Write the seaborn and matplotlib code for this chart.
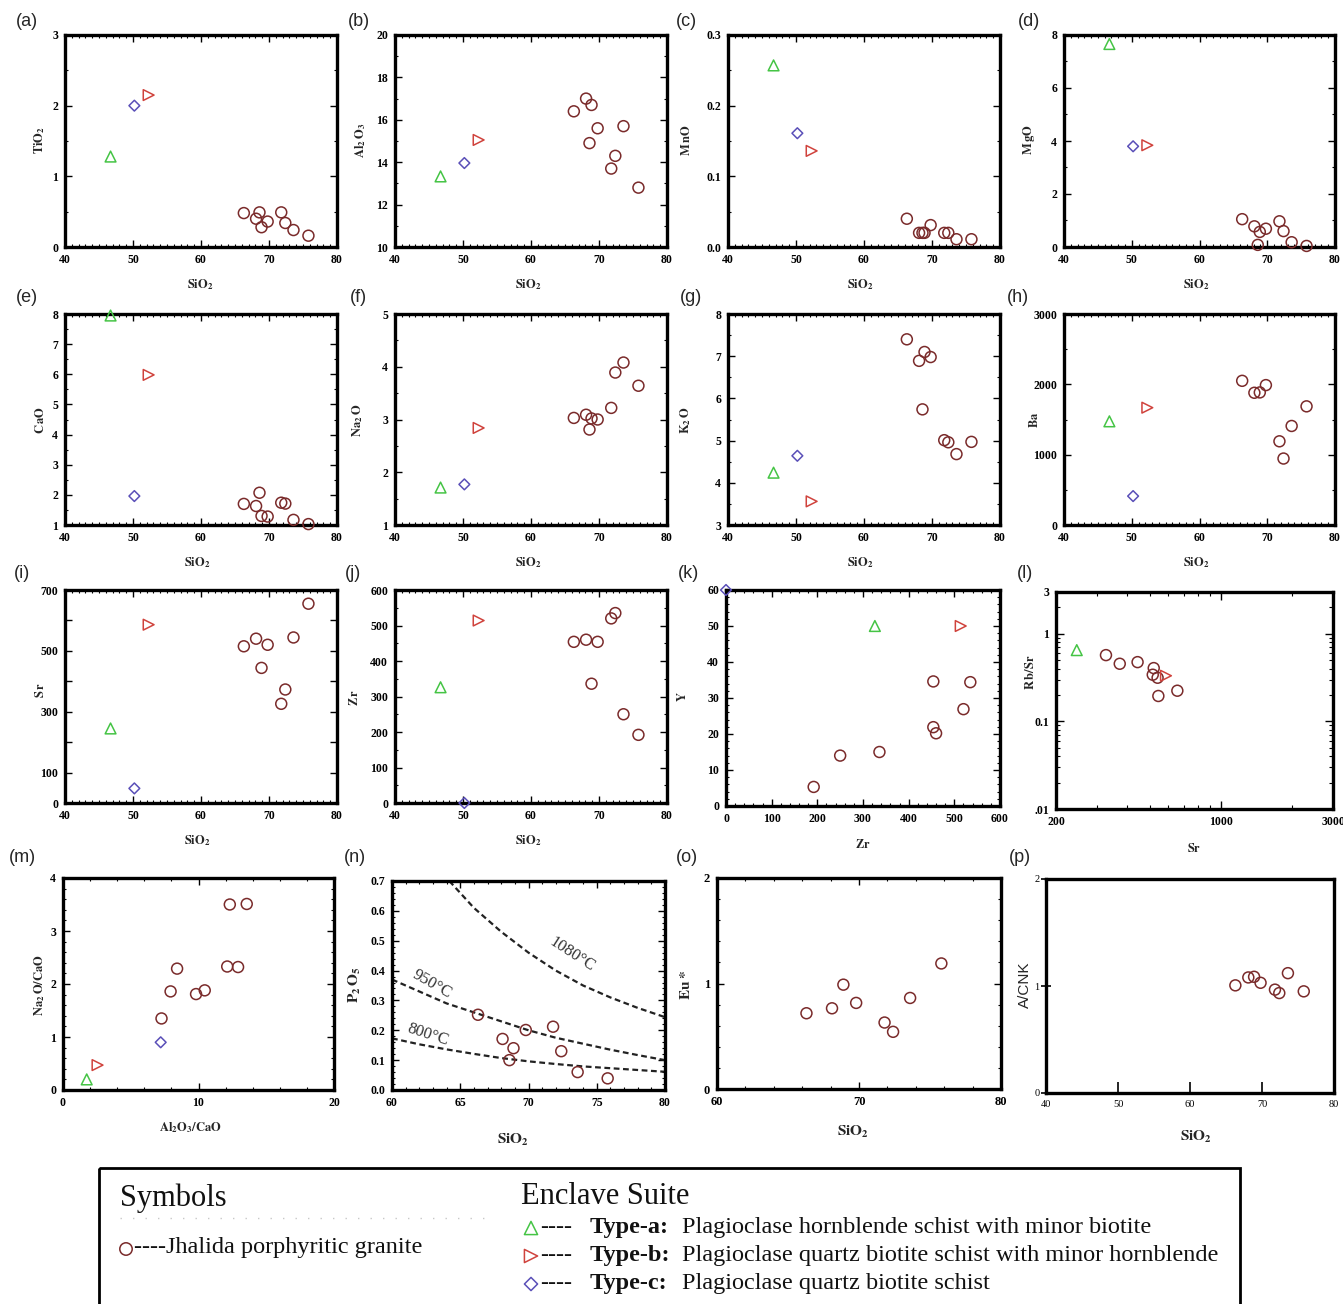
import numpy as np
import matplotlib
matplotlib.use("Agg")
import matplotlib.pyplot as plt
from matplotlib.ticker import MultipleLocator, FixedLocator, FixedFormatter, NullFormatter, LogLocator
from matplotlib.patches import Rectangle
import seaborn as sns

nan = np.nan

# ---------------- enclave suite (type-a, type-b, type-c) ----------------
sio2_enclave = [46.7, 52.3, 50.2]
tio2_enclave = [1.28, 2.15, 2.00]
al2o3_enclave = [13.33, 15.05, 13.96]
mno_enclave = [0.257, 0.136, 0.161]
mgo_enclave = [7.66, 3.84, 3.80]
cao_enclave = [7.95, 5.98, 1.96]
na2o_enclave = [1.71, 2.84, 1.77]
k2o_enclave = [4.24, 3.56, 4.64]
ba_enclave = [1474, 1668, 411]
sr_enclave = [245, 586, 48]
zr_enclave = [326, 514, 0]
y_enclave = [50, 50, 60]
rbsr_enclave = [0.651, 0.332, nan]
alca_enclave = [1.75, 2.55, 7.21]
naca_enclave = [0.20, 0.47, 0.90]

# ---------------- Jhalida porphyritic granite ----------------
sio2_granite = [66.3, 68.1, 68.6, 68.9, 69.8, 71.8, 72.4, 73.6, 75.8]
tio2_granite = [0.48, 0.40, 0.49, 0.28, 0.36, 0.49, 0.34, 0.24, 0.16]
al2o3_granite = [16.4, 17.0, 14.9, 16.7, 15.6, 13.7, 14.3, 15.7, 12.8]
mno_granite = [0.040, 0.020, 0.020, 0.020, 0.031, 0.020, 0.020, 0.011, 0.011]
mgo_granite = [1.05, 0.78, 0.08, 0.57, 0.69, 0.97, 0.60, 0.18, 0.04]
cao_granite = [1.70, 1.63, 2.07, 1.30, 1.28, 1.74, 1.71, 1.17, 1.03]
na2o_granite = [3.03, 3.09, 2.81, 3.02, 3.00, 3.22, 3.89, 4.08, 3.64]
k2o_granite = [7.40, 6.89, 5.74, 7.10, 6.98, 5.01, 4.96, 4.68, 4.97]
ba_granite = [2050, 1880, nan, 1885, 1989, 1190, 945, 1408, 1687]
sr_granite = [515, 540, nan, 444, 520, 326, 373, 544, 655]
zr_granite = [454, 460, nan, 336, 454, 520, 535, 250, 192]
y_granite = [34.6, 20.2, nan, 15.0, 21.9, 26.9, 34.4, 14.0, 5.3]
rbsr_granite = [0.341, 0.315, nan, 0.475, 0.406, 0.571, 0.455, 0.195, 0.224]
alca_granite = [9.82, 10.46, 7.27, 12.92, 12.12, 7.94, 8.42, 13.56, 12.31]
naca_granite = [1.81, 1.88, 1.35, 2.32, 2.33, 1.86, 2.29, 3.51, 3.50]
p2o5_granite = [0.252, 0.171, 0.100, 0.140, 0.201, 0.212, 0.130, 0.060, 0.039]
eu_granite = [0.718, 0.765, nan, 0.989, 0.816, 0.630, 0.542, 0.863, 1.190]
acnk_granite = [1.006, 1.080, nan, 1.086, 1.030, 0.966, 0.934, 1.120, 0.950]

# ---------------- apatite saturation isotherms (P2O5 vs SiO2) ----------------
iso_sio2 = [60, 62, 64, 66, 68, 70, 72, 74, 76, 78, 80]
iso_950 = [0.370, 0.330, 0.290, 0.260, 0.230, 0.200, 0.175, 0.155, 0.135, 0.117, 0.100]
iso_800 = [0.173, 0.153, 0.136, 0.121, 0.107, 0.096, 0.087, 0.079, 0.073, 0.067, 0.061]
iso1080_sio2 = [64.2, 66, 68, 70, 72, 74, 76, 78, 80]
iso_1080 = [0.700, 0.610, 0.530, 0.460, 0.400, 0.350, 0.310, 0.275, 0.244]

# ---------------- styling ----------------
sns.set_theme(style="ticks")
plt.rcParams.update({
    "font.family": ["Liberation Serif", "DejaVu Serif"],
    "font.weight": "bold",
    "mathtext.fontset": "stix",
    "axes.facecolor": "white",
    "figure.facecolor": "white",
    "axes.edgecolor": "black",
    "xtick.color": "black",
    "ytick.color": "black",
})

GRANITE = dict(marker="o", s=62, color="#7a2b2b")
TYPE_A = dict(marker="^", s=60, color="#45c445")
TYPE_B = dict(marker=">", s=60, color="#d0433d")
TYPE_C = dict(marker="D", s=30, color="#5a4fb8")
ENCLAVE_STYLES = [TYPE_A, TYPE_B, TYPE_C]

W, H = 1343, 1304
fig = plt.figure(figsize=(W / 100, H / 100), dpi=100)


def px_axes(l, t, r, b):
    return fig.add_axes([l / W, 1 - b / H, (r - l) / W, (b - t) / H])


def ftext(x, y, s, **kw):
    fig.text(x / W, 1 - y / H, s, **kw)


def draw_points(ax, x, y, style):
    sns.scatterplot(x=list(x), y=list(y), ax=ax, marker=style["marker"], s=style["s"],
                    facecolor="none", edgecolor=style["color"], linewidth=1.1,
                    clip_on=False, zorder=4, legend=False)


def frame(ax, xlim, ylim, xmaj, xmin, ymaj, ymin, size=8.5):
    ax.set_xlim(*xlim)
    ax.set_ylim(*ylim)
    if xmaj:
        ax.xaxis.set_major_locator(MultipleLocator(xmaj))
        ax.xaxis.set_minor_locator(MultipleLocator(xmin))
    if ymaj:
        ax.yaxis.set_major_locator(MultipleLocator(ymaj))
        ax.yaxis.set_minor_locator(MultipleLocator(ymin))
    ax.tick_params(which="both", direction="in", top=True, right=True)
    ax.tick_params(which="major", length=5, width=1.0, labelsize=size, pad=5)
    ax.tick_params(which="minor", length=2.5, width=0.8)
    for sp in ax.spines.values():
        sp.set_linewidth(2.4)
        sp.set_color("black")
    ax.set_xlabel("")
    ax.set_ylabel("")
    ax.grid(False)


def panel(box, letter, letter_xy, xg, yg, xe, ye, lims, ticks, xlabel, xlab_xy,
          ylabel, ylab_xy, size=8.5, lab_size=9):
    ax = px_axes(*box)
    draw_points(ax, xg, yg, GRANITE)
    if xe is not None:
        for i, st in enumerate(ENCLAVE_STYLES):
            draw_points(ax, [xe[i]], [ye[i]], st)
    frame(ax, lims[0], lims[1], *ticks, size=size)
    ftext(*letter_xy, letter, fontsize=13, fontweight="normal",
          family=["Liberation Sans", "DejaVu Sans"], ha="left", va="center")
    ftext(*xlab_xy, xlabel, fontsize=lab_size, ha="center", va="center")
    if ylabel:
        ftext(*ylab_xy, ylabel, fontsize=lab_size, ha="center", va="center", rotation=90)
    return ax


SIO2 = r"$\mathbf{SiO_2}$"

# ---- row 1 ----
panel((65, 35, 337, 247), "(a)", (16, 22), sio2_granite, tio2_granite, sio2_enclave, tio2_enclave,
      ((40, 80), (0, 3)), (10, 1, 1, 0.5), SIO2, (200, 285), r"$\mathbf{TiO_2}$", (40, 140))
panel((395, 35, 667, 247), "(b)", (348, 22), sio2_granite, al2o3_granite, sio2_enclave, al2o3_enclave,
      ((40, 80), (10, 20)), (10, 1, 2, 1), SIO2, (528, 285), r"$\mathbf{Al_2\,O_3}$", (361, 140))
panel((728, 35, 1000, 247), "(c)", (676, 22), sio2_granite, mno_granite, sio2_enclave, mno_enclave,
      ((40, 80), (0, 0.3)), (10, 1, 0.1, 0.05), SIO2, (860, 285), r"$\mathbf{M\,nO}$", (686, 140))
panel((1064, 35, 1335, 247), "(d)", (1018, 22), sio2_granite, mgo_granite, sio2_enclave, mgo_enclave,
      ((40, 80), (0, 8)), (10, 1, 2, 1), SIO2, (1196, 285), r"$\mathbf{M\,gO}$", (1029, 140))

# ---- row 2 ----
panel((65, 314, 337, 525), "(e)", (16, 298), sio2_granite, cao_granite, sio2_enclave, cao_enclave,
      ((40, 80), (1, 8)), (10, 1, 1, 0.5), SIO2, (197, 563), r"$\mathbf{C\,aO}$", (40, 420))
panel((395, 314, 667, 525), "(f)", (350, 298), sio2_granite, na2o_granite, sio2_enclave, na2o_enclave,
      ((40, 80), (1, 5)), (10, 1, 1, 0.5), SIO2, (528, 563), r"$\mathbf{Na_2\,O}$", (358, 420))
panel((728, 314, 1000, 525), "(g)", (680, 298), sio2_granite, k2o_granite, sio2_enclave, k2o_enclave,
      ((40, 80), (3, 8)), (10, 1, 1, 0.5), SIO2, (860, 563), r"$\mathbf{K_2\,O}$", (686, 420))
panel((1064, 314, 1335, 525), "(h)", (1007, 298), sio2_granite, ba_granite, sio2_enclave, ba_enclave,
      ((40, 80), (0, 3000)), (10, 1, 1000, 500), SIO2, (1196, 563), r"$\mathbf{Ba}$", (1035, 420))

# ---- row 3 ----
ax_i = panel((65, 590, 337, 803), "(i)", (14, 574), sio2_granite, sr_granite, sio2_enclave, sr_enclave,
             ((40, 80), (0, 700)), (10, 1, 100, 50), SIO2, (197, 841), r"$\mathbf{S\,r}$", (40, 690))
ax_i.yaxis.set_major_formatter(FixedFormatter(["0", "100", "", "300", "", "500", "", "700"]))
ax_i.yaxis.set_major_locator(FixedLocator([0, 100, 200, 300, 400, 500, 600, 700]))
ax_i.yaxis.set_minor_locator(FixedLocator([]))

panel((395, 590, 667, 803), "(j)", (345, 574), sio2_granite, zr_granite, sio2_enclave, zr_enclave,
      ((40, 80), (0, 600)), (10, 1, 100, 50), SIO2, (528, 841), r"$\mathbf{Z\,r}$", (355, 697))
panel((726, 590, 1000, 806), "(k)", (678, 574), zr_granite, y_granite, zr_enclave, y_enclave,
      ((0, 600), (0, 60)), (100, 20, 10, 2), r"$\mathbf{Zr}$", (863, 845), r"$\mathbf{Y}$", (683, 697))

ax_l = panel((1056, 592, 1333, 809), "(l)", (1017, 574), sr_granite, rbsr_granite, sr_enclave, rbsr_enclave,
             ((200, 3000), (0.01, 3)), (None, None, None, None), r"$\mathbf{Sr}$", (1194, 848),
             r"$\mathbf{R\,b/Sr}$", (1030, 672))
ax_l.set_xscale("log")
ax_l.set_yscale("log")
ax_l.set_xlim(200, 3000)
ax_l.set_ylim(0.01, 3)
ax_l.xaxis.set_major_locator(FixedLocator([200, 1000, 3000]))
ax_l.xaxis.set_major_formatter(FixedFormatter(["200", "1000", "3000"]))
ax_l.xaxis.set_minor_locator(FixedLocator([300, 400, 500, 600, 700, 800, 900, 2000]))
ax_l.xaxis.set_minor_formatter(NullFormatter())
ax_l.yaxis.set_major_locator(FixedLocator([0.01, 0.1, 1, 3]))
ax_l.yaxis.set_major_formatter(FixedFormatter([".01", "0.1", "1", "3"]))
ax_l.yaxis.set_minor_locator(LogLocator(base=10, subs=np.arange(2, 10)))
ax_l.yaxis.set_minor_formatter(NullFormatter())
ax_l.tick_params(which="both", direction="in", top=True, right=True)
ax_l.tick_params(which="major", length=6, labelsize=8.5)
ax_l.tick_params(which="minor", length=3)

# ---- row 4 ----
panel((63, 878, 334, 1090), "(m)", (9, 858), alca_granite, naca_granite, alca_enclave, naca_enclave,
      ((0, 20), (0, 4)), (10, 2, 1, 0.2), r"$\mathbf{Al_2O_3/CaO}$", (190, 1128),
      r"$\mathbf{Na_2\,O/CaO}$", (40, 985))

ax_n = panel((392, 881, 665, 1090), "(n)", (344, 858), sio2_granite, p2o5_granite, None, None,
             ((60, 80), (0, 0.7)), (5, 1, 0.1, 0.02), SIO2, (513, 1140), r"$\mathbf{P_2\,O_5}$", (355, 985),
             lab_size=11)
for xs, ys in ((iso1080_sio2, iso_1080), (iso_sio2, iso_950), (iso_sio2, iso_800)):
    sns.lineplot(x=xs, y=ys, ax=ax_n, color="#222222", linewidth=1.6, linestyle=(0, (2.6, 1.6)),
                 sort=False, estimator=None, zorder=2, legend=False)
ax_n.set_xlim(60, 80)
ax_n.set_ylim(0, 0.7)
ax_n.set_xlabel("")
ax_n.set_ylabel("")
for txt, xy, rot in (("1080°C", (572, 955), -33), ("950°C", (432, 984), -30), ("800°C", (428, 1035), -18)):
    ftext(*xy, txt, fontsize=12, fontweight="normal", color="#333333", ha="center", va="center",
          rotation=rot)

panel((717, 878, 1001, 1089), "(o)", (676, 858), sio2_granite, eu_granite, None, None,
      ((60, 80), (0, 2)), (10, 2, 1, 0.2), SIO2, (853, 1132), r"$\mathbf{Eu*}$", (686, 985),
      size=9, lab_size=11)

ax_p = panel((1046, 879, 1334, 1093), "(p)", (1009, 858), sio2_granite, acnk_granite, None, None,
             ((40, 80), (0, 2)), (10, 10, 1, 1), SIO2, (1196, 1137), "", (1030, 985), lab_size=11)
ax_p.tick_params(which="both", top=False, right=False)
ax_p.tick_params(axis="x", which="major", direction="in", length=8, width=1.2, labelsize=7.5)
ax_p.tick_params(axis="y", which="major", direction="inout", length=7, width=1.2, labelsize=7.5, pad=1)
ax_p.tick_params(which="minor", length=0)
for lbl in ax_p.get_xticklabels() + ax_p.get_yticklabels():
    lbl.set_fontweight("normal")
ftext(1025, 985, "A/CNK", fontsize=11, fontweight="normal", rotation=90, ha="center", va="center",
      family=["Liberation Sans Narrow", "Liberation Sans", "DejaVu Sans"])

# ---------------- symbol key ----------------
key = fig.add_axes([0, 0, 1, 1], facecolor="none")
key.set_xlim(0, W)
key.set_ylim(H, 0)
key.axis("off")
key.add_patch(Rectangle((99, 1168), 1141, 160, fill=False, lw=2.0, edgecolor="black", clip_on=False))
key.plot([120, 490], [1218, 1218], color="#c8c8c8", lw=1.0, linestyle=(0, (1, 8)))

TXT = dict(fontweight="normal", va="center", ha="left", color="#111111")
key.text(120, 1198, "Symbols", fontsize=22, **TXT)
key.text(521, 1196, "Enclave Suite", fontsize=22, **TXT)

key.scatter([126], [1249], marker="o", s=80, facecolor="none", edgecolor=GRANITE["color"], lw=1.1)
key.text(134, 1248, "----Jhalida porphyritic granite", fontsize=17.5, **TXT)

rows = [
    (TYPE_A, 1228, "Type-a:", "Plagioclase hornblende schist with minor biotite"),
    (TYPE_B, 1256, "Type-b:", "Plagioclase quartz biotite schist with minor hornblende"),
    (TYPE_C, 1284, "Type-c:", "Plagioclase quartz biotite schist"),
]
for st, yy, tag, desc in rows:
    key.scatter([531], [yy], marker=st["marker"], s=st["s"] * 1.5, facecolor="none",
                edgecolor=st["color"], lw=1.1)
    key.text(540, yy, "----", fontsize=17.5, **TXT)
    key.text(590, yy, tag, fontsize=17.5, fontweight="bold", va="center", ha="left", color="#111111")
    key.text(682, yy, desc, fontsize=17.5, **TXT)

fig.savefig("out.png", dpi=100, facecolor="white")
